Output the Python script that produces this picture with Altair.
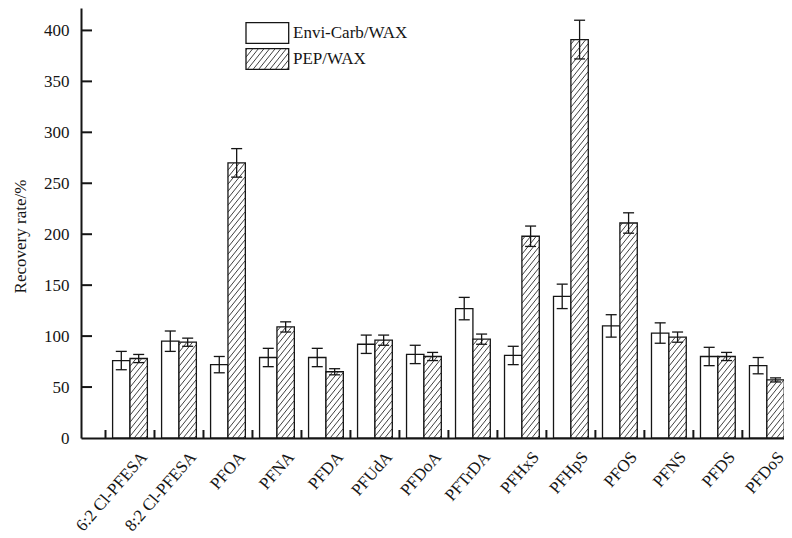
import json
import numpy as np
import pandas as pd
import altair as alt

# ---------------- data ----------------
categories = ["6:2 Cl-PFESA", "8:2 Cl-PFESA", "PFOA", "PFNA", "PFDA", "PFUdA",
              "PFDoA", "PFTrDA", "PFHxS", "PFHpS", "PFOS", "PFNS", "PFDS", "PFDoS"]
series = ["Envi-Carb/WAX", "PEP/WAX"]
envi_mean = [76, 95, 72, 79, 79, 92, 82, 127, 81, 139, 110, 103, 80, 71]
envi_err = [9, 10, 8, 9, 9, 9, 9, 11, 9, 12, 11, 10, 9, 8]
pep_mean = [78, 94, 270, 109, 65, 96, 80, 97, 198, 391, 211, 99, 80, 57]
pep_err = [4, 4, 14, 5, 3, 5, 4, 5, 10, 19, 10, 5, 4, 2]
y_ticks = [0, 50, 100, 150, 200, 250, 300, 350, 400]

# ---------------- layout constants ----------------
W, H = 703, 430
XMAX, YMAX = 14.35, 422
BAR_W = 0.355
px_x = W / XMAX
px_y = H / YMAX
CAP = 5.5 / px_x
FONT = "Liberation Serif"
INK = "#151515"
K, S = 1.25, 7.0   # hatch slope (px) and vertical spacing (px)


def to_dx(px):
    return px / px_x


def to_dy(py):          # py measured downward from the plot top
    return (H - py) / px_y


def hatch_segments(left_px, bottom_px, w, h):
    out = []
    c = -K * w + 2.5
    while c < h:
        xs = max(0.0, -c / K)
        xe = min(w, (h - c) / K)
        if xe > xs + 0.3:
            out.append((left_px + xs, bottom_px - (K * xs + c),
                        left_px + xe, bottom_px - (K * xe + c)))
        c += S
    return out


rows = []
for i, cat in enumerate(categories):
    idx = i + 1
    for s, m, e in ((series[0], envi_mean[i], envi_err[i]), (series[1], pep_mean[i], pep_err[i])):
        x0 = idx - BAR_W if s == series[0] else idx
        xc = x0 + BAR_W / 2
        rows.append(dict(cat=cat, series=s, x0=x0, x1=x0 + BAR_W, xc=xc,
                         c0=xc - CAP, c1=xc + CAP, val=m, base=0, lo=m - e, hi=m + e))
df = pd.DataFrame(rows)
cat_df = pd.DataFrame(dict(cat=categories, idx=list(range(1, len(categories) + 1)), zero=0))

# hatch segments for PEP bars (derived from the bar values)
segs = []
for i, v in enumerate(pep_mean):
    left_px = (i + 1) * px_x
    for (ax, ay, bx, by) in hatch_segments(left_px, H, BAR_W * px_x, v * px_y):
        segs.append(dict(hx0=to_dx(ax), hy0=to_dy(ay), hx1=to_dx(bx), hy1=to_dy(by)))

# legend (box geometry in plot pixels, converted to data units)
LG_X0, LG_X1 = 165.0, 207.7
LG_ROWS = [(14.7, 35.3), (40.7, 61.3)]
LG_TX = 212.0
leg = []
for s, (t, b) in zip(series, LG_ROWS):
    leg.append(dict(series=s, lx0=to_dx(LG_X0), lx1=to_dx(LG_X1), ly0=to_dy(t), ly1=to_dy(b),
                    tx=to_dx(LG_TX), ty=to_dy((t + b) / 2)))
leg_df = pd.DataFrame(leg)
t, b = LG_ROWS[1]
for (ax, ay, bx, by) in hatch_segments(LG_X0, b, LG_X1 - LG_X0, b - t):
    segs.append(dict(hx0=to_dx(ax), hy0=to_dy(ay), hx1=to_dx(bx), hy1=to_dy(by)))
hatch = pd.DataFrame(segs)

ytick_df = pd.DataFrame(dict(v=y_ticks[1:], a=0.0, b=11 / px_x))
xtick_df = pd.DataFrame(dict(p=[i + 0.5 for i in range(len(categories))], a=0.0, b=8 / px_y))

xs_ = alt.Scale(domain=[0, XMAX], nice=False, zero=False)
ys_ = alt.Scale(domain=[0, YMAX], nice=False)

x_axis = alt.Axis(
    values=[], labels=False, ticks=False, tickSize=0, grid=False,
    domainWidth=2, domainColor=INK, title="")
y_axis = alt.Axis(
    values=y_ticks, ticks=False, tickSize=0, labelPadding=12, grid=False,
    domainWidth=2, domainColor=INK, labelFont=FONT, labelFontSize=17,
    labelColor=INK, title="Recovery rate/%", titleFont=FONT, titleFontSize=17,
    titleFontWeight="normal", titleColor=INK, titlePadding=14, titleY=228)


def X(f):
    return alt.X(f, scale=xs_, axis=x_axis)


def Y(f):
    return alt.Y(f, scale=ys_, axis=y_axis)


bars = alt.Chart(df).mark_bar(fill="white", stroke=INK, strokeWidth=1.3).encode(
    x=X("x0:Q"), x2="x1:Q", y=Y("val:Q"), y2="base:Q")

legend_boxes = alt.Chart(leg_df).mark_rect(fill="white", stroke=INK, strokeWidth=1.3).encode(
    x=X("lx0:Q"), x2="lx1:Q", y=Y("ly0:Q"), y2="ly1:Q")

hatch_layer = alt.Chart(hatch).mark_rule(color="#2a2a2a", strokeWidth=0.9).encode(
    x=X("hx0:Q"), x2="hx1:Q", y=Y("hy0:Q"), y2="hy1:Q")

legend_text = alt.Chart(leg_df).mark_text(
    align="left", baseline="middle", font=FONT, fontSize=17, color=INK).encode(
    x=X("tx:Q"), y=Y("ty:Q"), text="series:N")

err = alt.Chart(df).mark_rule(color=INK, strokeWidth=1.3).encode(
    x=X("xc:Q"), y=Y("lo:Q"), y2="hi:Q")
cap_hi = alt.Chart(df).mark_rule(color=INK, strokeWidth=1.3).encode(
    x=X("c0:Q"), x2="c1:Q", y=Y("hi:Q"))
cap_lo = alt.Chart(df).mark_rule(color=INK, strokeWidth=1.3).encode(
    x=X("c0:Q"), x2="c1:Q", y=Y("lo:Q"))

yticks = alt.Chart(ytick_df).mark_rule(color=INK, strokeWidth=2).encode(
    x=X("a:Q"), x2="b:Q", y=Y("v:Q"))
xticks = alt.Chart(xtick_df).mark_rule(color=INK, strokeWidth=2).encode(
    x=X("p:Q"), y=Y("a:Q"), y2="b:Q")

# rotated category labels, top-right corner just right of each group centre
xlabels = alt.Chart(cat_df).mark_text(
    angle=311, align="right", baseline="top", font=FONT, fontSize=17,
    color=INK, dx=-3, dy=13.5).encode(
    x=X("idx:Q"), y=Y("zero:Q"), text="cat:N")

chart = alt.layer(bars, legend_boxes, hatch_layer, legend_text, err, cap_hi, cap_lo,
                  yticks, xticks, xlabels).properties(
    width=W, height=H,
    padding={"left": 73, "top": 0, "right": 0, "bottom": 100},
    autosize=alt.AutoSizeParams(type="none"),
    background="white",
).configure_view(stroke=None)

chart.save("out.html", embed_options={"renderer": "svg", "actions": False})
